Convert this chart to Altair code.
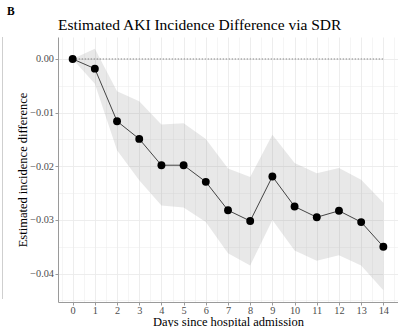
import altair as alt
import pandas as pd

# Estimated incidence difference by day since admission, with confidence band
days = list(range(15))
estimate = [0.0, -0.0018, -0.0116, -0.0149, -0.0198, -0.0198, -0.0229, -0.0282,
            -0.0302, -0.0219, -0.0275, -0.0295, -0.0283, -0.0304, -0.0350]
upper = [0.0, 0.0019, -0.0060, -0.0079, -0.0122, -0.0120, -0.0149, -0.0204,
         -0.0220, -0.0141, -0.0194, -0.0213, -0.0203, -0.0225, -0.0268]
lower = [0.0, -0.0046, -0.0170, -0.0226, -0.0273, -0.0277, -0.0304, -0.0362,
         -0.0385, -0.0300, -0.0357, -0.0376, -0.0366, -0.0385, -0.0431]

x_ticks = [i * 0.5 for i in range(-1, 30)]
y_ticks = [round(-0.045 + i * 0.005, 3) for i in range(10)]

df = pd.DataFrame({"day": days, "est": estimate, "lo": lower, "hi": upper, "zero": 0.0})

FONT = "Liberation Serif"
X_DOM = [-0.66, 14.66]
Y_DOM = [-0.0453, 0.0041]

is_int_x = "abs(datum.value - round(datum.value)) < 0.000001"
is_major_y = "abs(datum.value * 100 - round(datum.value * 100)) < 0.000001"

common_axis = dict(
    labelOverlap=False,
    labelFont=FONT,
    titleFont=FONT,
    labelFontSize=10.3,
    titleFontSize=12.5,
    titleFontWeight="normal",
    labelColor="#4d4d4d",
    titleColor="black",
    domainColor="#9a9a9a",
    domainWidth=1,
    tickColor="#9a9a9a",
    tickSize=3,
    gridColor="#ebebeb",
)

X_AXIS = alt.Axis(
    values=x_ticks,
    title="Days since hospital admission",
    labelExpr=f"{is_int_x} ? format(datum.value, 'd') : ''",
    tickOpacity={"condition": {"test": is_int_x, "value": 1}, "value": 0},
    gridWidth={"condition": {"test": is_int_x, "value": 0.9}, "value": 0.5},
    labelPadding=0,
    labelAngle=0,
    titleY=23,
    titleBaseline="alphabetic",
    **common_axis,
)
Y_AXIS = alt.Axis(
    values=y_ticks,
    title="Estimated incidence difference",
    labelExpr=f"{is_major_y} ? format(datum.value, '.2f') : ''",
    tickOpacity={"condition": {"test": is_major_y, "value": 1}, "value": 0},
    gridWidth={"condition": {"test": is_major_y, "value": 0.9}, "value": 0.5},
    labelPadding=1.5,
    titlePadding=0,
    **common_axis,
)
X_SCALE = alt.Scale(domain=X_DOM, nice=False, zero=False)
Y_SCALE = alt.Scale(domain=Y_DOM, nice=False, zero=False)


def x_enc():
    return alt.X("day:Q", scale=X_SCALE, axis=X_AXIS)


def y_enc(field):
    return alt.Y(field, scale=Y_SCALE, axis=Y_AXIS)


base = alt.Chart(df)

band = base.mark_area(color="#8c8c8c", opacity=0.2).encode(
    x=x_enc(), y=y_enc("lo:Q"), y2="hi:Q"
)

zero_line = base.mark_line(
    color="#666666", strokeDash=[1.5, 1.5], strokeWidth=0.8
).encode(x=x_enc(), y=y_enc("zero:Q"))

line = base.mark_line(color="#1a1a1a", strokeWidth=0.8).encode(x=x_enc(), y=y_enc("est:Q"))
points = base.mark_point(filled=True, color="black", size=62, opacity=1).encode(
    x=x_enc(), y=y_enc("est:Q")
)

# Panel letter and plot title, placed in the top padding
panel_tag = alt.Chart(pd.DataFrame({"t": ["B"]})).mark_text(
    font=FONT, fontSize=11.5, fontWeight="bold", align="left", baseline="alphabetic", color="black"
).encode(x=alt.value(-51), y=alt.value(-22), text="t:N")

plot_title = alt.Chart(pd.DataFrame({"t": ["Estimated AKI Incidence Difference via SDR"]})).mark_text(
    font=FONT, fontSize=15.5, align="left", baseline="alphabetic", color="black"
).encode(x=alt.value(0), y=alt.value(-7), text="t:N")

side_rule = alt.Chart(pd.DataFrame({"t": [0]})).mark_rule(
    color="#cfcfcf", strokeWidth=1
).encode(x=alt.value(-55.5), y=alt.value(0), y2=alt.value(262))

chart = (
    alt.layer(band, zero_line, line, points, panel_tag, plot_title, side_rule)
    .properties(
        width=340,
        height=265,
        padding={"left": 58, "top": 37, "right": 0, "bottom": 25},
        autosize=alt.AutoSizeParams(type="none"),
    )
    .configure_view(stroke=None)
)

chart.save("out.html", embed_options={"renderer": "svg", "actions": False})
